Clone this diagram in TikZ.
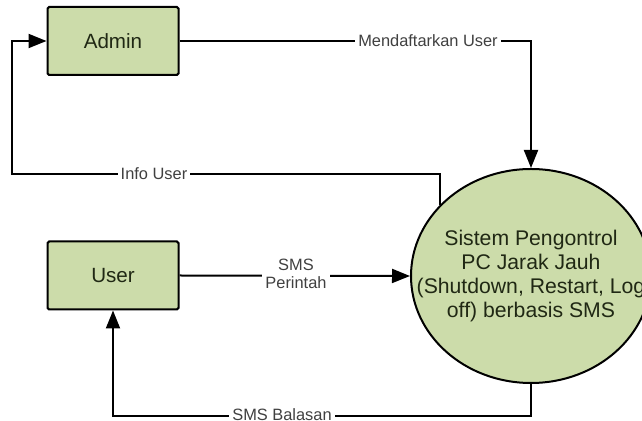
\documentclass[tikz,border=0pt]{standalone}
\usepackage{fontspec}
\setmainfont{Liberation Sans}
\usetikzlibrary{arrows.meta,shapes.geometric}
\definecolor{entityfill}{RGB}{204,220,170}
\definecolor{entitytext}{RGB}{32,40,20}
\definecolor{labeltext}{gray}{0.25}
\begin{document}
\begin{tikzpicture}[x=0.5pt,y=-0.5pt,
  entity/.style={draw=black,line width=1pt,fill=entityfill,rounded corners=0.8pt,
    minimum width=65.5pt,minimum height=34pt,inner sep=0pt,
    font=\fontsize{10.3}{12}\selectfont,text=entitytext},
  process/.style={draw=black,line width=1pt,fill=entityfill,ellipse,
    minimum width=120pt,minimum height=107pt,inner sep=0pt},
  processtext/.style={align=center,inner sep=0pt,
    font=\fontsize{10.6}{12}\selectfont,text=entitytext},
  flow/.style={line width=1pt,-{Triangle[length=9pt,width=7pt]}},
  flowlabel/.style={fill=white,inner sep=1.5pt,text=labeltext,align=center,
    font=\fontsize{8.2}{9}\selectfont}]
\useasboundingbox (0,0) rectangle (642,421);

% external entities and the system process
\node[entity] (admin) at (113,41) {Admin};
\node[entity] (user) at (113,275.5) {User};
\node[process] (sys) at (531,276) {};
\node[processtext] (systext) at (sys.center) {Sistem Pengontrol\\PC Jarak Jauh\\(Shutdown, Restart, Log\\off) berbasis SMS};

% bend points of the routed flows
\coordinate (c1) at (531,41);
\coordinate (c3) at (12,174);
\coordinate (c4) at (12,41);
\coordinate (c5) at (531,416);
\coordinate (c6) at (113,416);

% Admin registers users
\draw[flow] (admin.east) -- (c1) -- (sys.north);
\node[flowlabel] (lreg) at (428,41) {Mendaftarkan User};

% user info returned to Admin
\draw[flow] (sys.142.4) |- (c3) -- (c4) -- (admin.west);
\node[flowlabel] (linfo) at (154,174) {Info User};

% command SMS from the user
\draw[flow] (user.east) -- (sys.west);
\node[flowlabel] (lcmd) at (296,274) {SMS\\Perintah};

% reply SMS back to the user
\draw[flow] (sys.south) -- (c5) -- (c6) -- (user.south);
\node[flowlabel] (lreply) at (282,414.5) {SMS Balasan};
\end{tikzpicture}
\end{document}
